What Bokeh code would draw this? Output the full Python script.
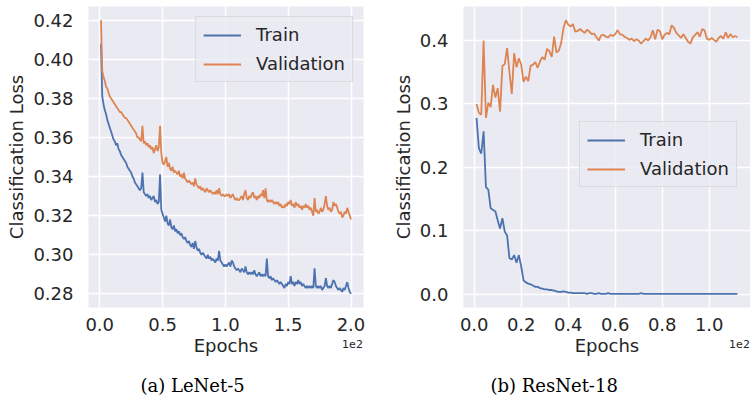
from bokeh.plotting import figure
from bokeh.layouts import row
from bokeh.models import Legend, LegendItem, Label, FixedTicker, Range1d, NumeralTickFormatter, Title
from bokeh.embed import file_html
from bokeh.resources import INLINE

# ---------------- data (epochs are shown in units of 1e2) ----------------
lenet_train = [
    0.408, 0.381, 0.377, 0.374, 0.372, 0.369, 0.367, 0.365, 0.363, 0.361,
    0.359, 0.358, 0.356, 0.357, 0.354, 0.353, 0.351, 0.350, 0.349, 0.348,
    0.347, 0.345, 0.344, 0.343, 0.342, 0.340, 0.339, 0.337, 0.336, 0.335,
    0.334, 0.333, 0.334, 0.342, 0.332, 0.331, 0.330, 0.331, 0.329, 0.330,
    0.328, 0.329, 0.330, 0.327, 0.328, 0.326, 0.327, 0.341, 0.323, 0.321,
    0.319, 0.317, 0.320, 0.316, 0.315, 0.318, 0.314, 0.313, 0.315, 0.312,
    0.313, 0.311, 0.312, 0.310, 0.311, 0.309, 0.308, 0.309, 0.307, 0.306,
    0.307, 0.305, 0.304, 0.306, 0.303, 0.307, 0.304, 0.302, 0.303, 0.301,
    0.300, 0.301, 0.300, 0.299, 0.298, 0.300, 0.298, 0.299, 0.297, 0.298,
    0.297, 0.296, 0.298, 0.297, 0.302, 0.297, 0.296, 0.295, 0.294, 0.295,
    0.294, 0.295, 0.296, 0.294, 0.297, 0.296, 0.294, 0.293, 0.292, 0.293,
    0.292, 0.291, 0.293, 0.292, 0.291, 0.294, 0.291, 0.290, 0.291, 0.290,
    0.291, 0.290, 0.292, 0.290, 0.289, 0.290, 0.291, 0.289, 0.290, 0.289,
    0.290, 0.289, 0.298, 0.289, 0.288, 0.289, 0.287, 0.288, 0.287, 0.286,
    0.287, 0.286, 0.285, 0.286, 0.285, 0.284, 0.283, 0.285, 0.284, 0.286,
    0.285, 0.289, 0.285, 0.286, 0.284, 0.286, 0.285, 0.287, 0.285, 0.286,
    0.284, 0.285, 0.284, 0.283, 0.284, 0.283, 0.284, 0.283, 0.284, 0.283,
    0.293, 0.284, 0.283, 0.284, 0.283, 0.284, 0.282, 0.283, 0.284, 0.288,
    0.284, 0.283, 0.284, 0.283, 0.285, 0.287, 0.286, 0.284, 0.283, 0.282,
    0.283, 0.282, 0.281, 0.283, 0.282, 0.284, 0.286, 0.283, 0.281, 0.280,
]
lenet_val = [
    0.420, 0.394, 0.391, 0.389, 0.386, 0.385, 0.383, 0.381, 0.380, 0.379,
    0.378, 0.377, 0.376, 0.375, 0.374, 0.373, 0.373, 0.372, 0.371, 0.370,
    0.370, 0.369, 0.368, 0.367, 0.366, 0.365, 0.364, 0.363, 0.362, 0.360,
    0.360, 0.359, 0.358, 0.366, 0.357, 0.358, 0.356, 0.357, 0.355, 0.356,
    0.354, 0.355, 0.352, 0.354, 0.356, 0.353, 0.355, 0.366, 0.352, 0.347,
    0.346, 0.348, 0.350, 0.345, 0.347, 0.344, 0.343, 0.345, 0.342, 0.343,
    0.342, 0.341, 0.343, 0.340, 0.341, 0.339, 0.342, 0.339, 0.338, 0.337,
    0.338, 0.337, 0.336, 0.337, 0.335, 0.339, 0.336, 0.335, 0.334, 0.335,
    0.333, 0.334, 0.333, 0.332, 0.334, 0.333, 0.332, 0.333, 0.332, 0.331,
    0.332, 0.331, 0.333, 0.331, 0.334, 0.331, 0.330, 0.331, 0.330, 0.330,
    0.331, 0.330, 0.331, 0.329, 0.330, 0.331, 0.329, 0.328, 0.329, 0.328,
    0.328, 0.329, 0.330, 0.328, 0.331, 0.333, 0.329, 0.328, 0.330, 0.329,
    0.331, 0.332, 0.329, 0.330, 0.328, 0.330, 0.329, 0.331, 0.330, 0.333,
    0.329, 0.334, 0.328, 0.327, 0.328, 0.327, 0.328, 0.327, 0.326, 0.327,
    0.326, 0.327, 0.325, 0.326, 0.324, 0.325, 0.324, 0.326, 0.325, 0.327,
    0.326, 0.328, 0.325, 0.326, 0.324, 0.327, 0.325, 0.326, 0.324, 0.325,
    0.323, 0.325, 0.324, 0.326, 0.324, 0.325, 0.323, 0.324, 0.322, 0.320,
    0.329, 0.322, 0.323, 0.321, 0.322, 0.324, 0.322, 0.323, 0.326, 0.330,
    0.325, 0.323, 0.324, 0.322, 0.323, 0.327, 0.325, 0.326, 0.324, 0.322,
    0.321, 0.322, 0.319, 0.320, 0.322, 0.321, 0.324, 0.322, 0.320, 0.318,
]
resnet_train = [
    0.278, 0.230, 0.222, 0.257, 0.169, 0.165, 0.136, 0.133, 0.131, 0.117,
    0.104, 0.120, 0.099, 0.093, 0.057, 0.055, 0.062, 0.050, 0.062, 0.044,
    0.022, 0.019, 0.017, 0.016, 0.014, 0.012, 0.012, 0.010, 0.009, 0.008,
    0.008, 0.007, 0.007, 0.006, 0.005, 0.004, 0.004, 0.005, 0.004, 0.003,
    0.003, 0.002, 0.002, 0.002, 0.002, 0.002, 0.002, 0.001, 0.002, 0.002,
    0.001, 0.001, 0.002, 0.001, 0.001, 0.001, 0.002, 0.001, 0.001, 0.001,
    0.001, 0.001, 0.001, 0.001, 0.001, 0.001, 0.001, 0.001, 0.001, 0.001,
    0.002, 0.001, 0.001, 0.001, 0.001, 0.001, 0.001, 0.001, 0.001, 0.001,
    0.001, 0.001, 0.001, 0.001, 0.001, 0.001, 0.001, 0.001, 0.001, 0.001,
    0.001, 0.001, 0.001, 0.001, 0.001, 0.001, 0.001, 0.001, 0.001, 0.001,
    0.001, 0.001, 0.001, 0.001, 0.001, 0.001, 0.001, 0.001, 0.001, 0.001,
    0.001, 0.001,
]
resnet_val = [
    0.300, 0.286, 0.283, 0.400, 0.278, 0.302, 0.295, 0.330, 0.310, 0.325,
    0.288, 0.360, 0.363, 0.388, 0.350, 0.316, 0.380, 0.358, 0.372, 0.362,
    0.335, 0.343, 0.336, 0.360, 0.362, 0.366, 0.357, 0.367, 0.374, 0.370,
    0.387, 0.383, 0.374, 0.406, 0.381, 0.384, 0.396, 0.420, 0.432, 0.425,
    0.422, 0.426, 0.414, 0.415, 0.418, 0.415, 0.412, 0.417, 0.414, 0.410,
    0.411, 0.405, 0.400, 0.408, 0.409, 0.406, 0.405, 0.409, 0.407, 0.410,
    0.416, 0.410, 0.409, 0.406, 0.404, 0.401, 0.403, 0.399, 0.402, 0.400,
    0.395, 0.399, 0.403, 0.400, 0.405, 0.416, 0.402, 0.417, 0.415, 0.402,
    0.409, 0.412, 0.410, 0.424, 0.420, 0.412, 0.408, 0.404, 0.410, 0.404,
    0.398, 0.395, 0.405, 0.409, 0.413, 0.406, 0.418, 0.416, 0.403, 0.401,
    0.404, 0.401, 0.398, 0.404, 0.407, 0.403, 0.413, 0.404, 0.410, 0.405,
    0.407, 0.405,
]
assert len(lenet_train) == len(lenet_val) == 200
assert len(resnet_train) == len(resnet_val) == 112

lenet_xticks = [0.0, 0.5, 1.0, 1.5, 2.0]
lenet_yticks = [0.28, 0.30, 0.32, 0.34, 0.36, 0.38, 0.40, 0.42]
resnet_xticks = [0.0, 0.2, 0.4, 0.6, 0.8, 1.0]
resnet_yticks = [0.0, 0.1, 0.2, 0.3, 0.4]
series_names = ["Train", "Validation"]
captions = ["(a) LeNet-5", "(b) ResNet-18"]
x_offset_text = "1e2"
x_scale = 100.0

BG = "#EAEAF2"
BLUE = "#4C72B0"
ORANGE = "#DD8452"
TXT = "#262626"
FONT = "DejaVu Sans"
SERIF = "DejaVu Serif"


def auto_range(vals):
    lo, hi = min(vals), max(vals)
    m = 0.05 * (hi - lo)
    return Range1d(lo - m, hi + m)


def make(train, val, xticks, yticks, yfmt, caption, cap_offset, right_border, legend_loc):
    xs = [(i + 1) / x_scale for i in range(len(train))]
    p = figure(width=375, height=410, output_backend="svg", toolbar_location=None,
               x_range=auto_range(xs), y_range=auto_range(train + val),
               min_border_left=88, min_border_right=right_border,
               min_border_top=6, min_border_bottom=103)
    p.background_fill_color = BG
    p.border_fill_color = "white"
    p.outline_line_color = None
    for g in (p.xgrid, p.ygrid):
        g.grid_line_color = "white"
        g.grid_line_width = 1.5
    p.xaxis.ticker = FixedTicker(ticks=xticks)
    p.yaxis.ticker = FixedTicker(ticks=yticks)
    p.xaxis.formatter = NumeralTickFormatter(format="0.0")
    p.yaxis.formatter = NumeralTickFormatter(format=yfmt)
    for ax in (p.xaxis, p.yaxis):
        ax.axis_line_color = None
        ax.major_tick_line_color = None
        ax.minor_tick_line_color = None
        ax.major_tick_out = 0
        ax.major_tick_in = 0
        ax.minor_tick_out = 0
        ax.major_label_text_font = FONT
        ax.major_label_text_font_size = "18px"
        ax.major_label_text_color = TXT
        ax.axis_label_text_font = FONT
        ax.axis_label_text_font_size = "18px"
        ax.axis_label_text_font_style = "normal"
        ax.axis_label_text_color = TXT
    p.xaxis.axis_label = "Epochs"
    p.yaxis.axis_label = "Classification Loss"
    p.xaxis.major_label_standoff = 10
    p.xaxis.axis_label_standoff = 1
    p.yaxis.major_label_standoff = 15
    p.yaxis.axis_label_standoff = 3

    r1 = p.line(xs, train, line_color=BLUE, line_width=1.8)
    r2 = p.line(xs, val, line_color=ORANGE, line_width=1.8)

    leg = Legend(items=[LegendItem(label=series_names[0], renderers=[r1]),
                        LegendItem(label=series_names[1], renderers=[r2])],
                 location=legend_loc, margin=10, padding=7, spacing=8,
                 glyph_width=38, glyph_height=20, label_height=20, label_standoff=15,
                 label_text_font=FONT, label_text_font_size="18px", label_text_color=TXT,
                 background_fill_color=BG, background_fill_alpha=0.8,
                 border_line_color="#CCCCCC", border_line_width=1)
    p.add_layout(leg)

    # "1e2" offset text, canvas coordinates (origin top-left), hosted in the bottom side panel
    p.add_layout(Label(x=p.width - right_border - 11, y=343, x_units="canvas", y_units="canvas",
                       text=x_offset_text, text_align="center", text_baseline="middle",
                       text_font=FONT, text_font_size="11px", text_color=TXT), "below")
    p.add_layout(Title(text=caption, align="left", offset=cap_offset, standoff=12,
                       text_font=SERIF, text_font_size="18px", text_font_style="normal",
                       text_color="black"), "below")
    return p


p1 = make(lenet_train, lenet_val, lenet_xticks, lenet_yticks, "0.00", captions[0], 52, 12, "top_right")
p2 = make(resnet_train, resnet_val, resnet_xticks, resnet_yticks, "0.0", captions[1], 27, 0, (116, 120))

layout = row(p1, p2)
open("out.html", "w").write(file_html(layout, INLINE))
